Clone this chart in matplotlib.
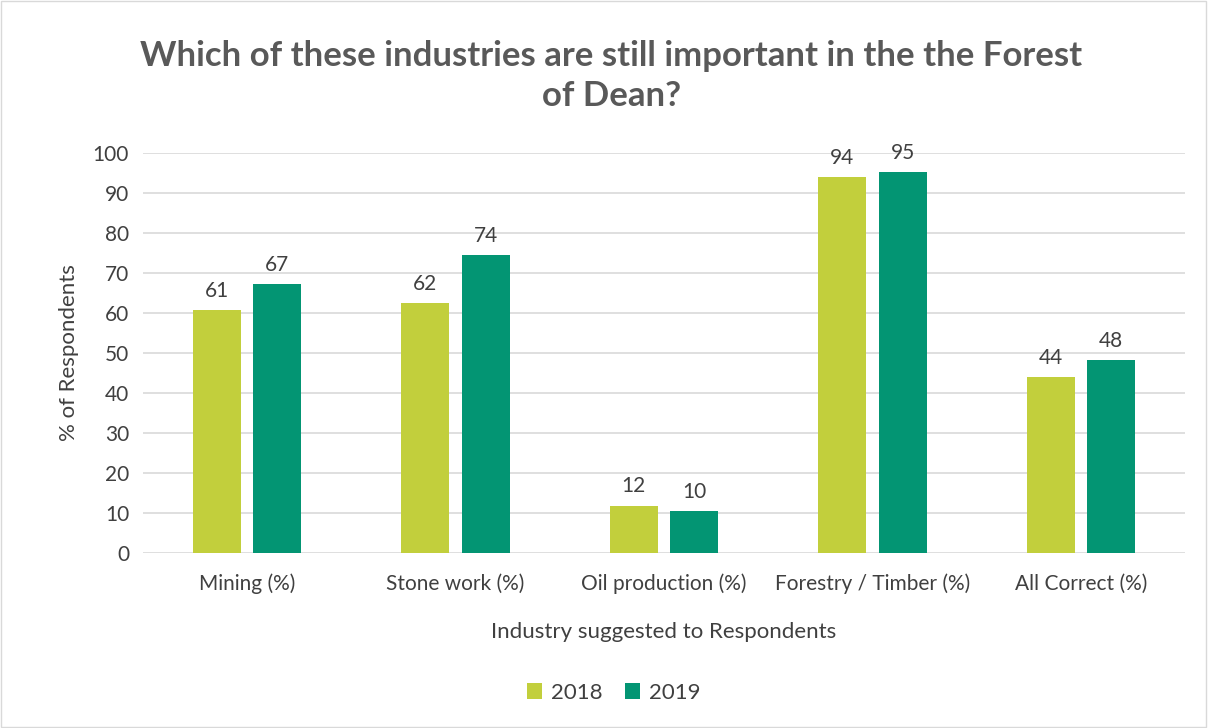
import matplotlib

matplotlib.use("Agg")
import matplotlib.pyplot as plt
import numpy as np
from matplotlib.patches import Rectangle

categories = ["Mining (%)", "Stone work (%)", "Oil production (%)",
              "Forestry / Timber (%)", "All Correct (%)"]
vals_2018 = [60.7, 62.4, 11.8, 94.0, 43.9]
vals_2019 = [67.1, 74.5, 10.4, 95.1, 48.2]
series_names = ["2018", "2019"]

plt.rcParams["font.family"] = ["Lato", "DejaVu Sans"]
TXT = "#404040"
C18 = "#c2cf3c"
C19 = "#039573"

fig = plt.figure(figsize=(12.08, 7.28), dpi=100)
ax = fig.add_axes([143 / 1208, 1 - 552.7 / 728, 1042 / 1208, 400 / 728])

x = np.arange(len(categories))
w = 0.23
off = 0.145
b1 = ax.bar(x - off, vals_2018, w, color=C18, label=series_names[0], zorder=3)
b2 = ax.bar(x + off, vals_2019, w, color=C19, label=series_names[1], zorder=3)
for bars, vals in ((b1, vals_2018), (b2, vals_2019)):
    for r, v in zip(bars, vals):
        ax.text(r.get_x() + r.get_width() / 2, v + 2.3, f"{v:.0f}",
                ha="center", va="bottom", fontsize=15, color=TXT)

ax.set_xlim(-0.5, 4.5)
ax.set_ylim(0, 100)
ax.set_yticks(range(0, 101, 10))
ax.yaxis.grid(True, color="#d9d9d9", lw=1.2, zorder=0)
for s in ax.spines.values():
    s.set_visible(False)
ax.tick_params(length=0, labelsize=15, colors=TXT)
ax.tick_params(axis="y", pad=10)
ax.tick_params(axis="x", pad=15)
ax.set_xticks(x)
ax.set_xticklabels(categories)
ax.set_xlabel("Industry suggested to Respondents", fontsize=16, color=TXT, labelpad=20)
ax.set_ylabel("% of Respondents", fontsize=16, color=TXT, labelpad=10)

fig.text(0.506, 1 - 76 / 728, "Which of these industries are still important in the the Forest\nof Dean?",
         ha="center", va="center", fontsize=25, fontweight="bold", color="#595959",
         linespacing=1.32)

fig.legend(handles=[b1, b2], loc="center", bbox_to_anchor=(0.508, 1 - 693 / 728),
           ncol=2, frameon=False, fontsize=16, labelcolor=TXT, handlelength=0.7,
           handleheight=0.7, columnspacing=1.0, handletextpad=0.4)

fig.patches.append(Rectangle((0.001, 0.001), 0.997, 0.997, transform=fig.transFigure,
                             fill=False, edgecolor="#d9d9d9", lw=1))

fig.savefig("out.png", dpi=100)
